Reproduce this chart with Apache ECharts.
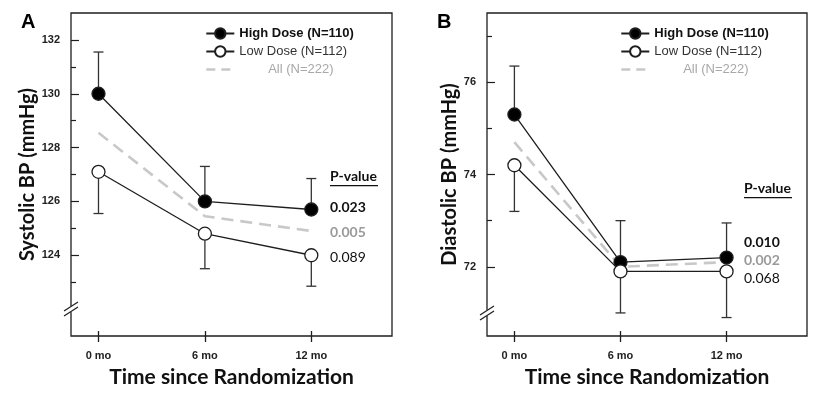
<!DOCTYPE html>
<html>
<head>
<meta charset="utf-8">
<script src="https://cdn.jsdelivr.net/npm/echarts@6/dist/echarts.min.js"></script>
<style>
html,body{margin:0;padding:0;background:#fff;}
#chart{width:826px;height:400px;}
</style>
</head>
<body>
<div id="chart"></div>
<script>
// ---- data ----
const months = [0, 6, 12];
const monthLabels = ['0 mo', '6 mo', '12 mo'];
const seriesNames = ['High Dose (N=110)', 'Low Dose (N=112)', 'All (N=222)'];

const sysHigh = [130.0, 126.0, 125.7];
const sysHighUpper = [131.55, 127.3, 126.85];
const sysLow = [127.1, 124.8, 124.0];
const sysLowLower = [125.55, 123.5, 122.85];
const sysAll = [128.55, 125.45, 124.9];

const diaHigh = [75.3, 72.1, 72.2];
const diaHighUpper = [76.35, 73.0, 72.95];
const diaLow = [74.2, 71.9, 71.9];
const diaLowLower = [73.2, 71.0, 70.9];
const diaAll = [74.7, 72.0, 72.1];

const sysP = ['0.023', '0.005', '0.089'];
const diaP = ['0.010', '0.002', '0.068'];

const sysMajor = [124, 126, 128, 130, 132];
const sysMinor = [123, 125, 127, 129, 131];
const diaMajor = [72, 74, 76];
const diaMinor = [73, 75, 77];

const sysRange = [121, 133];
const diaRange = [70.5, 77.5];
const sysBreak = 122;
const diaBreak = 71;
const xRange = [-1.55, 16.55];

// ---- build ----
const chart = echarts.init(document.getElementById('chart'), null, {renderer: 'canvas'});
const INK = '#1e1e1e';
const GREY = '#c8c8c8';
const SANS = 'Liberation Sans, Arial, sans-serif';
const TITLEF = 'Lato, Open Sans, sans-serif';

const grids = [
  {left: 71, top: 13, width: 321, height: 323, show: true, borderColor: INK, borderWidth: 1.3, backgroundColor: 'transparent'},
  {left: 487, top: 13, width: 320, height: 323, show: true, borderColor: INK, borderWidth: 1.3, backgroundColor: 'transparent'}
];

function xAxes(gi) {
  return [
    {
      type: 'value', gridIndex: gi, min: xRange[0], max: xRange[1], position: 'bottom',
      name: 'Time since Randomization', nameLocation: 'middle', nameGap: 31,
      nameTextStyle: {fontFamily: TITLEF, fontWeight: 'bold', fontSize: 21, color: '#111'},
      axisLine: {show: false, onZero: false}, splitLine: {show: false},
      axisTick: {show: true, inside: false, length: 6, customValues: months, lineStyle: {color: INK, width: 1.3}},
      axisLabel: {customValues: months, margin: 14, fontFamily: SANS, fontWeight: 'bold', fontSize: 11, color: '#222',
        formatter: v => monthLabels[months.indexOf(v)]}
    },
    {
      type: 'value', gridIndex: gi, min: xRange[0], max: xRange[1], position: 'bottom',
      axisLine: {show: false, onZero: false}, splitLine: {show: false}, axisLabel: {show: false},
      axisTick: {show: true, inside: true, length: 5, customValues: months, lineStyle: {color: INK, width: 1.3}}
    }
  ];
}

function yAxes(gi, range, major, minor, title) {
  return [
    {
      type: 'value', gridIndex: gi, min: range[0], max: range[1], position: 'left',
      name: title, nameLocation: 'middle', nameGap: 26,
      nameTextStyle: {fontFamily: TITLEF, fontWeight: 'bold', fontSize: 20, color: '#111'},
      axisLine: {show: false, onZero: false}, splitLine: {show: false},
      axisTick: {show: true, inside: true, length: 8, customValues: major, lineStyle: {color: INK, width: 1.2}},
      axisLabel: {customValues: major, margin: 11, fontFamily: SANS, fontWeight: 'bold', fontSize: 11, color: '#222'}
    },
    {
      type: 'value', gridIndex: gi, min: range[0], max: range[1], position: 'left', offset: 0,
      axisLine: {show: false, onZero: false}, splitLine: {show: false}, axisLabel: {show: false},
      axisTick: {show: true, inside: true, length: 5, customValues: minor, lineStyle: {color: INK, width: 1.2}}
    }
  ];
}

function errData(vals, ends) {
  return months.map((m, i) => [m, vals[i], ends[i]]);
}
function pts(vals) { return months.map((m, i) => [m, vals[i]]); }

function errSeries(gi, data) {
  return {
    type: 'custom', xAxisIndex: gi * 2, yAxisIndex: gi * 2, z: 1, silent: true,
    data: data,
    renderItem: function (params, api) {
      const p0 = api.coord([api.value(0), api.value(1)]);
      const p1 = api.coord([api.value(0), api.value(2)]);
      const style = {stroke: '#333', lineWidth: 1.3};
      return {
        type: 'group', children: [
          {type: 'line', shape: {x1: p0[0], y1: p0[1], x2: p1[0], y2: p1[1]}, style: style},
          {type: 'line', shape: {x1: p1[0] - 5, y1: p1[1], x2: p1[0] + 5, y2: p1[1]}, style: style}
        ]
      };
    }
  };
}

function lineSeries(gi, name, vals, kind) {
  const base = {type: 'line', name: name, xAxisIndex: gi * 2, yAxisIndex: gi * 2, data: pts(vals), animation: false};
  if (kind === 'all') {
    return Object.assign(base, {z: 2, symbol: 'none', lineStyle: {color: GREY, width: 2.6, type: [12, 7]}, itemStyle: {color: GREY}});
  }
  const filled = kind === 'high';
  return Object.assign(base, {
    z: 3, symbol: 'circle', symbolSize: 13,
    lineStyle: {color: INK, width: 1.3},
    itemStyle: {color: filled ? '#000' : '#fff', borderColor: INK, borderWidth: 1.3}
  });
}

function legend(left) {
  return {
    left: left, top: 22, orient: 'vertical', itemGap: 5, itemWidth: 28, itemHeight: 13,
    selectedMode: false,
    textStyle: {fontFamily: SANS, fontSize: 13, color: '#222'},
    formatter: n => n.indexOf('All') === 0 ? '        ' + n : n,
    data: [
      {name: seriesNames[0], textStyle: {fontWeight: 'bold', color: '#111'}},
      {name: seriesNames[1], textStyle: {color: '#333'}},
      {name: seriesNames[2], textStyle: {color: '#a8a8a8'}, itemStyle: {opacity: 0}, lineStyle: {color: GREY, width: 2.6, type: [9, 6]}}
    ]
  };
}

const option = {
  animation: false,
  backgroundColor: '#fff',
  grid: grids,
  legend: [legend(200), legend(615)],
  xAxis: [...xAxes(0), ...xAxes(1)],
  yAxis: [
    ...yAxes(0, sysRange, sysMajor, sysMinor, 'Systolic BP (mmHg)'),
    ...yAxes(1, diaRange, diaMajor, diaMinor, 'Diastolic BP (mmHg)')
  ],
  series: [
    errSeries(0, errData(sysHigh, sysHighUpper)),
    errSeries(0, errData(sysLow, sysLowLower)),
    lineSeries(0, seriesNames[2], sysAll, 'all'),
    lineSeries(0, seriesNames[0], sysHigh, 'high'),
    lineSeries(0, seriesNames[1], sysLow, 'low'),
    errSeries(1, errData(diaHigh, diaHighUpper)),
    errSeries(1, errData(diaLow, diaLowLower)),
    lineSeries(1, seriesNames[2], diaAll, 'all'),
    lineSeries(1, seriesNames[0], diaHigh, 'high'),
    lineSeries(1, seriesNames[1], diaLow, 'low')
  ]
};
chart.setOption(option);

// ---- annotations: axis breaks, panel letters, p-values ----
function breakMark(gi, val) {
  const p = chart.convertToPixel({xAxisIndex: gi * 2, yAxisIndex: gi * 2}, [xRange[0], val]);
  const x = p[0], y = p[1];
  const st = {stroke: INK, lineWidth: 1.2};
  return [
    {type: 'rect', shape: {x: x - 2, y: y - 3, width: 4, height: 6}, style: {fill: '#fff'}, z: 100},
    {type: 'line', shape: {x1: x - 7, y1: y + 2, x2: x + 7, y2: y - 7}, style: st, z: 101},
    {type: 'line', shape: {x1: x - 7, y1: y + 7, x2: x + 7, y2: y - 2}, style: st, z: 101}
  ];
}

function pBlock(left, headY, ys, vals) {
  const f = TITLEF;
  return [
    {type: 'text', left: left, top: headY - 8, z: 50, style: {text: 'P-value', font: 'bold 14px ' + f, fill: '#111'}},
    {type: 'rect', shape: {x: left, y: headY + 8, width: 48, height: 1.2}, style: {fill: '#111'}, z: 50},
    {type: 'text', left: left + 0, top: ys[0] - 8, z: 50, style: {text: vals[0], font: 'bold 14px ' + f, fill: '#111'}},
    {type: 'text', left: left + 0, top: ys[1] - 8, z: 50, style: {text: vals[1], font: 'bold 14px ' + f, fill: '#9a9a9a'}},
    {type: 'text', left: left + 0, top: ys[2] - 8, z: 50, style: {text: vals[2], font: '14px ' + f, fill: '#111'}}
  ];
}

const graphics = [
  {type: 'text', left: 21, top: 12, style: {text: 'A', font: 'bold 20px ' + SANS, fill: '#000'}},
  {type: 'text', left: 437, top: 12, style: {text: 'B', font: 'bold 20px ' + SANS, fill: '#000'}},
  ...breakMark(0, sysBreak),
  ...breakMark(1, diaBreak),
  ...pBlock(330, 177, [208, 233, 258], sysP),
  ...pBlock(744, 189, [243, 261, 279], diaP)
];
chart.setOption({graphic: graphics});
</script>
</body>
</html>
